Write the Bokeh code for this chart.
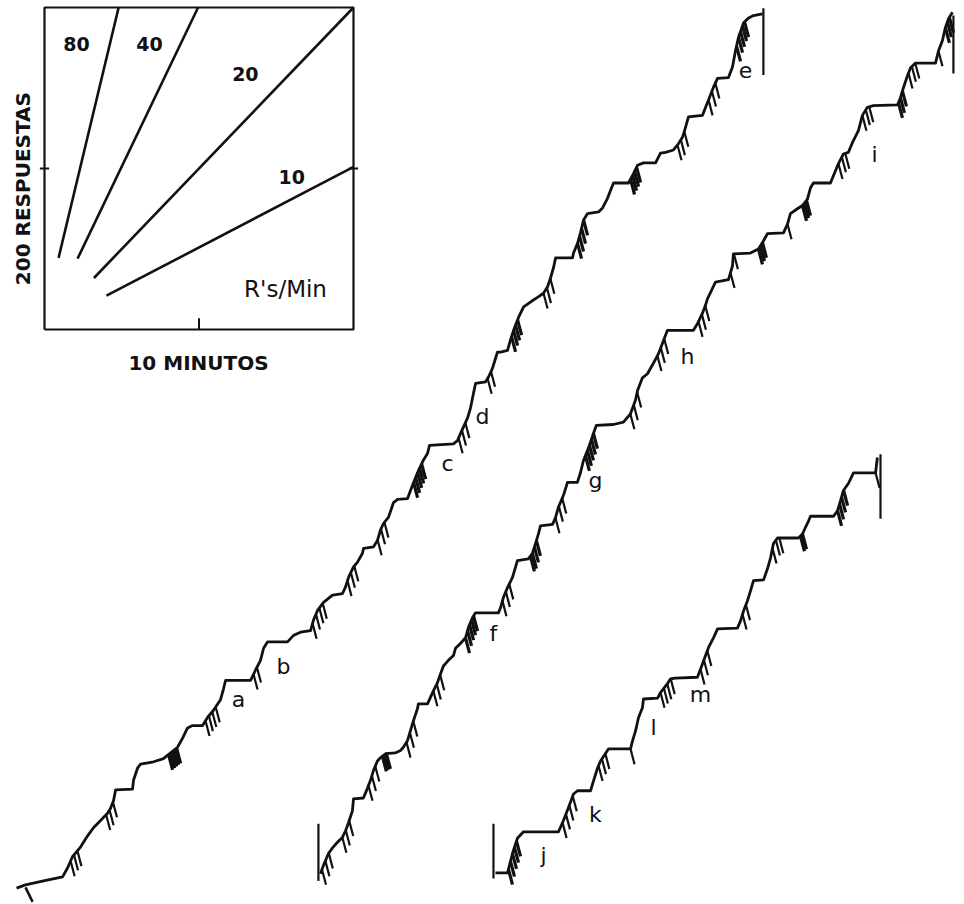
import numpy as np
from bokeh.plotting import figure
from bokeh.models import Range1d, ColumnDataSource
from bokeh.core.properties import value
from bokeh.embed import file_html
from bokeh.resources import INLINE

# ---------------- data (minutes, cumulative responses) ----------------
# calibration box: 20 minutes x 400 responses, ticks at 10 min / 200 resp
box_t = [0, 20, 20, 0, 0]
box_r = [0, 0, 400, 400, 0]
minute_tick = 10
response_tick = 200

rates = [80, 40, 20, 10]                  # responses per minute
rate_start_t = [0.91, 2.14, 3.20, 4.01]
rate_start_r = [89, 88, 64, 42]
rate_labels = ["80", "40", "20", "10"]
rate_label_t = [2.07, 6.80, 13.0, 16.0]
rate_label_r = [355, 355, 317, 189]

# record 1 (a-e)
rec1_t = [0, 0.58, 1.75, 2.98, 3.30, 3.62, 4.14, 4.60, 4.98, 5.44, 5.89, 6.08, 6.28, 6.41,
          7.51, 7.57, 7.83, 8.03, 8.87, 9.51, 9.97, 10.42, 10.74, 11.07, 11.39, 12.04,
          12.36, 12.75, 13.20, 13.40, 13.53, 15.15, 15.47, 15.79, 15.99, 16.25, 17.54,
          17.93, 18.38, 19.03, 19.22, 19.48, 19.87, 20.45, 21.10, 21.29, 21.49, 21.81,
          22.07, 22.39, 22.46, 23.11, 23.36, 23.56, 23.75, 24.08, 24.40, 24.66, 25.31,
          25.50, 25.70, 26.02, 26.34, 26.60, 26.73, 28.28, 28.54, 28.74, 28.93, 29.19,
          29.39, 29.58, 29.71, 30.36, 30.55, 30.81, 31.00, 31.13, 31.33, 31.78, 31.97,
          32.17, 32.49, 32.82, 33.40, 33.72, 34.11, 34.37, 34.56, 34.76, 34.89, 35.99,
          36.05, 36.31, 36.50, 36.70, 36.96, 37.67, 37.93, 38.25, 38.45, 38.64, 39.61,
          39.94, 40.19, 40.58, 41.36, 41.68, 42.01, 42.52, 42.85, 43.11, 43.30, 43.49,
          44.40, 44.60, 44.79, 45.11, 45.37, 46.08, 46.34, 46.54, 46.73, 47.06, 47.38,
          47.70, 48.28]
rec1_r = [0, 4, 9, 14, 25, 39, 51, 65, 75, 84, 93, 99, 109, 122,
          123, 134, 149, 154, 157, 161, 168, 175, 186, 199, 202, 202,
          212, 221, 234, 248, 258, 258, 271, 283, 298, 306, 306,
          314, 318, 320, 333, 345, 355, 364, 366, 374, 386, 399,
          405, 416, 422, 424, 432, 445, 453, 461, 479, 483, 484,
          494, 504, 519, 532, 540, 550, 552, 556, 565, 573, 584,
          597, 615, 627, 629, 635, 646, 658, 666, 666, 668, 681,
          693, 709, 722, 730, 734, 739, 747, 758, 771, 783, 783,
          789, 801, 814, 830, 838, 840, 845, 857, 867, 876, 876,
          888, 898, 901, 901, 913, 914, 917, 925, 933, 945, 958,
          960, 970, 979, 995, 1006, 1007, 1020, 1041, 1057, 1075, 1081,
          1084, 1086]
rec1_hash_t = [3.50, 5.80, 9.84, 12.23, 15.34, 19.16, 21.42, 23.37, 25.70, 28.61,
               30.49, 32.04, 34.11, 36.31, 39.74, 42.78, 44.79, 46.60]
rec1_hash_n = [3, 3, 5, 4, 2, 4, 3, 3, 5, 3, 2, 4, 3, 4, 4, 3, 3, 5]
rec1_hash_dense = [0, 0, 1, 0, 0, 0, 0, 0, 1, 0, 0, 1, 0, 1, 1, 0, 0, 1]
rec1_labels = ["a", "b", "c", "d", "e"]
rec1_label_t = [14.37, 17.28, 27.90, 30.16, 47.18]
rec1_label_r = [234, 275, 528, 586, 1016]
rec1_start_tick_t = [0.58, 1.04]
rec1_start_tick_r = [1, -17]
rec1_end_t = 48.34
rec1_end_r = [1010, 1093]

# record 2 (f-i)
rec2_t = [0, 0.19, 0.52, 0.78, 1.10, 1.42, 1.62, 1.81, 2.07, 2.14, 2.78, 3.04, 3.24, 3.43,
          3.69, 3.88, 4.21, 4.85, 5.18, 5.37, 5.63, 5.83, 6.02, 6.28, 6.34, 6.93, 7.12,
          7.31, 7.57, 7.77, 7.96, 8.28, 8.61, 8.74, 9.06, 9.39, 9.58, 9.84, 10.03, 11.52,
          11.65, 11.84, 12.10, 12.43, 12.75, 13.46, 13.72, 13.92, 14.11, 14.24, 15.02,
          15.21, 15.40, 15.73, 15.99, 16.63, 16.83, 17.02, 17.35, 17.67, 17.86, 18.96,
          19.61, 20.06, 20.39, 20.52, 20.84, 21.17, 21.55, 21.88, 22.20, 22.46, 24.14,
          24.40, 24.72, 24.92, 25.05, 25.57, 26.41, 26.67, 26.73, 27.83, 28.35, 28.67,
          28.93, 29.97, 30.23, 30.42, 30.87, 31.20, 31.52, 31.72, 31.91, 33.01, 33.33,
          33.53, 33.85, 34.17, 34.43, 34.82, 35.08, 35.40, 35.79, 37.35, 37.54, 37.73,
          37.99, 38.19, 38.51, 39.81, 40.00, 40.26, 40.45, 40.65, 40.91]
rec2_r = [0, 10, 25, 32, 39, 45, 53, 63, 78, 93, 94, 106, 116, 128,
          140, 144, 149, 150, 153, 157, 165, 178, 190, 205, 211, 211, 219,
          227, 237, 248, 258, 265, 271, 280, 286, 293, 306, 318, 324, 324,
          330, 343, 355, 368, 389, 391, 398, 410, 422, 432, 434,
          442, 455, 470, 486, 486, 498, 513, 529, 547, 557, 558,
          561, 571, 588, 600, 616, 621, 634, 646, 662, 675, 675,
          683, 696, 706, 714, 735, 738, 755, 770, 771, 776, 786,
          795, 796, 807, 820, 826, 830, 838, 852, 858, 858, 873,
          882, 894, 896, 908, 923, 942, 952, 954, 955, 964, 976,
          991, 1001, 1007, 1007, 1022, 1035, 1051, 1062, 1070]
rec2_hash_t = [0.10, 1.42, 3.11, 4.01, 5.57, 7.31, 9.39, 11.78, 13.59, 15.21, 17.15,
               20.06, 21.81, 24.47, 26.54, 28.35, 30.23, 31.20, 33.53, 35.08, 37.41,
               38.06, 40.00, 40.45]
rec2_hash_n = [3, 3, 3, 3, 3, 3, 5, 3, 4, 3, 5, 3, 3, 3, 2, 3, 1, 3, 3, 3, 3, 3, 1, 3]
rec2_hash_dense = [0, 0, 0, 1, 0, 0, 1, 0, 1, 0, 1, 0, 0, 0, 0, 1, 0, 1, 0, 0, 1, 0, 0, 1]
rec2_labels = ["f", "g", "h", "i"]
rec2_label_t = [11.20, 17.80, 23.75, 35.86]
rec2_label_r = [298, 489, 643, 894]
rec2_start_t = -0.13
rec2_start_r = [-9, 62]
rec2_end_t = 40.97
rec2_end_r = [994, 1066]

# record 3 (j-m)
rec3_t = [0, 0.78, 1.10, 1.42, 1.81, 4.08, 4.40, 4.72, 5.05, 5.31, 6.15, 6.34, 6.60, 6.80,
          7.31, 8.74, 8.87, 9.06, 9.26, 9.51, 9.58, 10.49, 10.68, 11.13, 11.33, 11.65,
          13.07, 13.27, 13.46, 13.79, 14.11, 14.37, 15.66, 15.86, 16.05, 16.31, 16.50,
          16.70, 17.35, 17.61, 17.80, 17.99, 18.25, 19.61, 19.87, 20.06, 20.26, 20.39,
          21.88, 22.14, 22.33, 22.52, 22.85, 23.17, 24.60, 24.72]
rec3_r = [0, 0, 24, 43, 51, 51, 65, 81, 98, 102, 102, 114, 130, 139,
          154, 154, 164, 176, 193, 205, 216, 217, 224, 235, 241, 242,
          243, 253, 263, 280, 292, 303, 304, 313, 325, 338, 350,
          363, 364, 378, 391, 409, 416, 416, 421, 429, 437, 443,
          443, 450, 462, 475, 484, 497, 497, 516]
rec3_hash_t = [0.84, 4.34, 6.67, 8.74, 10.68, 13.27, 15.99, 17.93, 19.74, 22.14, 24.60]
rec3_hash_n = [5, 4, 3, 1, 4, 3, 2, 3, 2, 4, 1]
rec3_hash_dense = [1, 0, 0, 0, 0, 0, 0, 0, 1, 1, 0]
rec3_labels = ["j", "k", "l", "m"]
rec3_label_t = [3.11, 6.47, 10.23, 13.27]
rec3_label_r = [22, 72, 180, 222]
rec3_start_t = -0.13
rec3_start_r = [-7, 61]
rec3_end_t = 24.92
rec3_end_r = [440, 520]

# ---------------- layout (position of each record's origin on the sheet) ----------------
rec1_origin = (-1.81, -694)
rec2_origin = (17.86, -676)
rec3_origin = (29.19, -675)

W, H = 964, 904
INK = "#111111"

p = figure(width=W, height=H, output_backend="svg", toolbar_location=None,
           x_range=Range1d(-2.848, 59.547), y_range=Range1d(-714.3, 408.7),
           x_axis_location=None, y_axis_location=None, min_border=0,
           background_fill_color="white", border_fill_color="white")
p.grid.visible = False
p.outline_line_color = None

# ---- calibration box ----
p.line(box_t, box_r, line_color=INK, line_width=2.2)
p.segment(x0=[minute_tick], y0=[0], x1=[minute_tick], y1=[14], line_color=INK, line_width=2)
p.segment(x0=[-0.3, 19.7], y0=[response_tick] * 2, x1=[0.3, 20.3], y1=[response_tick] * 2,
          line_color=INK, line_width=2)

for rate, t0, r0 in zip(rates, rate_start_t, rate_start_r):
    t_end = min(box_t[1], t0 + (box_r[2] - r0) / rate)
    r_end = r0 + rate * (t_end - t0)
    p.line([t0, t_end], [r0, r_end], line_color=INK, line_width=2.6)

p.text(x=rate_label_t, y=rate_label_r, text=rate_labels, text_font=value("DejaVu Sans"),
       text_font_style="bold", text_font_size="19px", text_align="center",
       text_baseline="middle", text_color=INK)
p.text(x=[15.6], y=[50], text=["R's/Min"], text_font=value("DejaVu Sans"),
       text_font_size="23px", text_align="center", text_baseline="middle", text_color=INK)
p.text(x=[-1.36], y=[175], text=["200 RESPUESTAS"], angle=np.pi / 2,
       text_font=value("DejaVu Sans"), text_font_style="bold", text_font_size="20px",
       text_align="center", text_baseline="middle", text_color=INK)
p.text(x=[9.97], y=[-41], text=["10 MINUTOS"], text_font=value("DejaVu Sans"),
       text_font_style="bold", text_font_size="20px", text_align="center",
       text_baseline="middle", text_color=INK)


def draw_record(rt, rr, origin, hash_t, hash_n, hash_dense, labels, lab_t, lab_r):
    T0, R0 = origin
    rt = np.asarray(rt, float)
    rr = np.asarray(rr, float)
    p.line(T0 + rt, R0 + rr, line_color=INK, line_width=2.8, line_join="round")
    xs, ys, ws = [], [], []
    for s, n, d in zip(hash_t, hash_n, hash_dense):
        step = 0.13 if d else 0.22
        for k in range(n):
            t = s + k * step
            r = float(np.interp(t, rt, rr))
            xs.append([T0 + t, T0 + t + 0.26])
            ys.append([R0 + r, R0 + r - 19])
            ws.append(3.2 if d else 2.2)
    src = ColumnDataSource(dict(xs=xs, ys=ys, w=ws))
    p.multi_line("xs", "ys", source=src, line_color=INK, line_width="w")
    p.text(x=[T0 + v for v in lab_t], y=[R0 + v for v in lab_r], text=labels,
           text_font=value("DejaVu Sans"), text_font_size="22px", text_align="center",
           text_baseline="middle", text_color=INK)


draw_record(rec1_t, rec1_r, rec1_origin, rec1_hash_t, rec1_hash_n, rec1_hash_dense,
            rec1_labels, rec1_label_t, rec1_label_r)
draw_record(rec2_t, rec2_r, rec2_origin, rec2_hash_t, rec2_hash_n, rec2_hash_dense,
            rec2_labels, rec2_label_t, rec2_label_r)
draw_record(rec3_t, rec3_r, rec3_origin, rec3_hash_t, rec3_hash_n, rec3_hash_dense,
            rec3_labels, rec3_label_t, rec3_label_r)

# start / end pen marks
T1, R1 = rec1_origin
T2, R2 = rec2_origin
T3, R3 = rec3_origin
p.line([T1 + v for v in rec1_start_tick_t], [R1 + v for v in rec1_start_tick_r],
       line_color=INK, line_width=2.5)
p.segment(x0=[T1 + rec1_end_t, T2 + rec2_start_t, T2 + rec2_end_t, T3 + rec3_start_t, T3 + rec3_end_t],
          y0=[R1 + rec1_end_r[0], R2 + rec2_start_r[0], R2 + rec2_end_r[0], R3 + rec3_start_r[0], R3 + rec3_end_r[0]],
          x1=[T1 + rec1_end_t, T2 + rec2_start_t, T2 + rec2_end_t, T3 + rec3_start_t, T3 + rec3_end_t],
          y1=[R1 + rec1_end_r[1], R2 + rec2_start_r[1], R2 + rec2_end_r[1], R3 + rec3_start_r[1], R3 + rec3_end_r[1]],
          line_color=INK, line_width=2.2)

open("out.html", "w").write(file_html(p, INLINE))
